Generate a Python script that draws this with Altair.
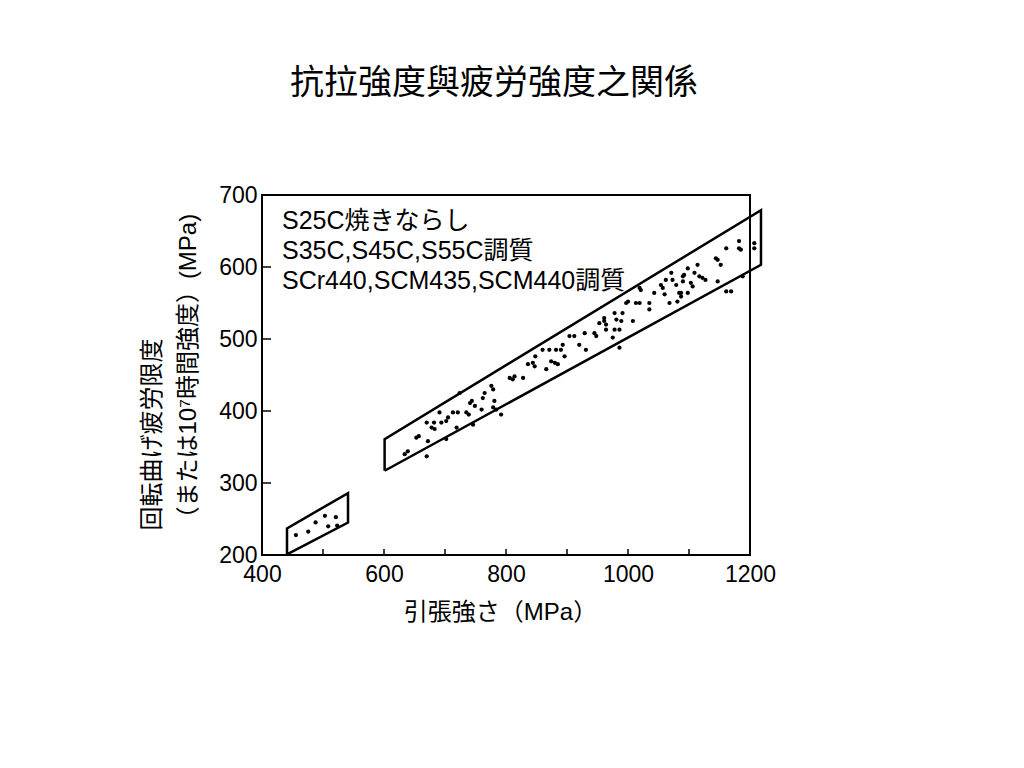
import altair as alt
import pandas as pd

# ---- data ----
# S25C normalized (small band)
s25_x = [455.6, 475.8, 487.9, 503.1, 508.5, 521.1, 523.2]
s25_y = [227.7, 232.3, 245.3, 254.4, 239.8, 252.5, 240.9]

# quenched & tempered steels (large band)
qt_x = [639, 634, 653, 657, 670, 672, 670, 678, 683, 682, 691, 694, 702, 705, 702,
        713, 719, 721, 724, 735, 739, 741, 744, 749, 746, 762, 765, 760, 776, 779,
        781, 779, 792, 784,
        806, 811, 814, 828, 836, 844, 848, 847, 866, 874, 880, 885, 871, 860, 882,
        890, 893, 896, 904, 912, 920, 931, 929, 945, 948, 953, 964,
        961, 961, 964, 975, 978, 981, 991, 989, 986, 978, 997, 1000, 1008, 1013,
        1019, 1035, 1035, 1021, 1043, 1054, 1057, 1060, 1062, 1071, 1073, 1068,
        1079, 1084, 1087, 1092, 1090, 1081, 986, 1019,
        1182, 1182, 1185, 1207, 1207, 1161, 1144, 1147, 1152, 1114, 1098, 1109,
        1090, 1117, 1122, 1127, 1103, 1106, 1147, 1188, 1161, 1169, 1087, 1098]
qt_y = [344, 340, 363, 365, 384, 358, 337, 377, 375, 384, 398, 384, 386, 391, 361,
        398, 377, 398, 425, 398, 395, 411, 414, 407, 381, 418, 425, 402, 435, 430,
        414, 405, 395, 402,
        446, 444, 448, 446, 465, 467, 476, 462, 458, 469, 467, 465, 485, 485, 485,
        485, 492, 476, 504, 504, 492, 485, 508, 508, 504, 522, 513,
        529, 525, 520, 502, 536, 527, 536, 525, 513, 513, 550, 552, 525, 550,
        550, 550, 541, 568, 564, 575, 571, 562, 582, 592, 582, 550,
        575, 564, 559, 589, 580, 552, 488, 571,
        636, 626, 624, 633, 626, 626, 612, 610, 603, 603, 598, 592,
        587, 587, 585, 582, 578, 573, 580, 587, 566, 566, 564, 564]

# scatter-band outlines (parallelograms), vertices in order
band_small_x = [441, 441, 541, 541, 441]
band_small_y = [201, 237, 286, 245, 201]
band_large_x = [601, 601, 1218, 1218, 601]
band_large_y = [317, 361, 679, 603, 317]

x_label_values = [400, 600, 800, 1000, 1200]
y_label_values = [200, 300, 400, 500, 600, 700]
x_tick_values = [500, 600, 700, 800, 900, 1000, 1100]
y_tick_values = [300, 400, 500, 600]

legend_lines = ["S25C焼きならし", "S35C,S45C,S55C調質", "SCr440,SCM435,SCM440調質"]
title_text = "抗拉強度與疲労強度之関係"
x_title = "引張強さ（MPa）"
y_title = ["回転曲げ疲労限度", "（または10⁷時間強度）(MPa)"]

# ---- tables ----
pts = pd.DataFrame({"x": s25_x + qt_x, "y": s25_y + qt_y})
bands = pd.DataFrame({
    "x": band_small_x + band_large_x,
    "y": band_small_y + band_large_y,
    "band": ["small"] * len(band_small_x) + ["large"] * len(band_large_x),
    "order": list(range(len(band_small_x))) + list(range(len(band_large_x))),
})

W, H = 488, 360
FONT = "Liberation Sans, Noto Sans CJK JP, sans-serif"

xs = alt.Scale(domain=[400, 1200], nice=False, zero=False)
ys = alt.Scale(domain=[200, 700], nice=False, zero=False)

x_axis = alt.Axis(
    values=x_label_values, format="d", labelFlush=False, labelPadding=8,
    title=x_title, titleFont=FONT, titleFontSize=24,
    titleFontWeight="normal", titleColor="black", titleX=238, titleY=64,
    titleAlign="center", titleBaseline="alphabetic")
y_axis = alt.Axis(
    values=y_label_values, format="d", labelFlush=False, labelPadding=5,
    title=y_title, titleFont=FONT, titleFontSize=24,
    titleFontWeight="normal", titleColor="black", titleAngle=270,
    titleX=-122, titleY=335, titleAlign="left", titleBaseline="top",
    titleLineHeight=36)

X = alt.X("x:Q", scale=xs, axis=x_axis)
Y = alt.Y("y:Q", scale=ys, axis=y_axis)

points = alt.Chart(pts).mark_circle(size=18, color="black", opacity=1).encode(x=X, y=Y)

outline = alt.Chart(bands).mark_line(color="black", strokeWidth=2.5, clip=False,
                                     strokeJoin="miter").encode(
    x=X, y=Y, detail="band:N", order="order:O")

xticks = alt.Chart(pd.DataFrame({"x": x_tick_values})).mark_rule(
    color="black", strokeWidth=1.5).encode(
    x=X, y=alt.value(H), y2=alt.value(H - 6))

yticks = alt.Chart(pd.DataFrame({"y": y_tick_values})).mark_rule(
    color="black", strokeWidth=1.5).encode(
    y=Y, x=alt.value(0), x2=alt.value(9))

legend = alt.Chart(pd.DataFrame({"k": [0]})).mark_text(
    align="left", baseline="top", fontSize=25, font=FONT, lineHeight=30,
    color="black").encode(
    x=alt.value(20), y=alt.value(14), text=alt.value(legend_lines))

chart = alt.layer(outline, points, xticks, yticks, legend).properties(
    width=W, height=H, background="white",
    title=alt.TitleParams(text=title_text, font="Noto Sans CJK TC", fontSize=34,
                          fontWeight="normal", anchor="middle", frame="group",
                          baseline="alphabetic", offset=56, dx=-12, color="black"),
    autosize=alt.AutoSizeParams(type="none"),
    padding={"left": 254, "top": 187, "right": 110, "bottom": 100},
).configure_view(stroke="black", strokeWidth=2).configure_axis(
    labelFont=FONT, labelFontSize=23, labelColor="black", domain=False,
    ticks=False, grid=False,
)

chart.save("out.html", embed_options={"renderer": "svg", "actions": False})
